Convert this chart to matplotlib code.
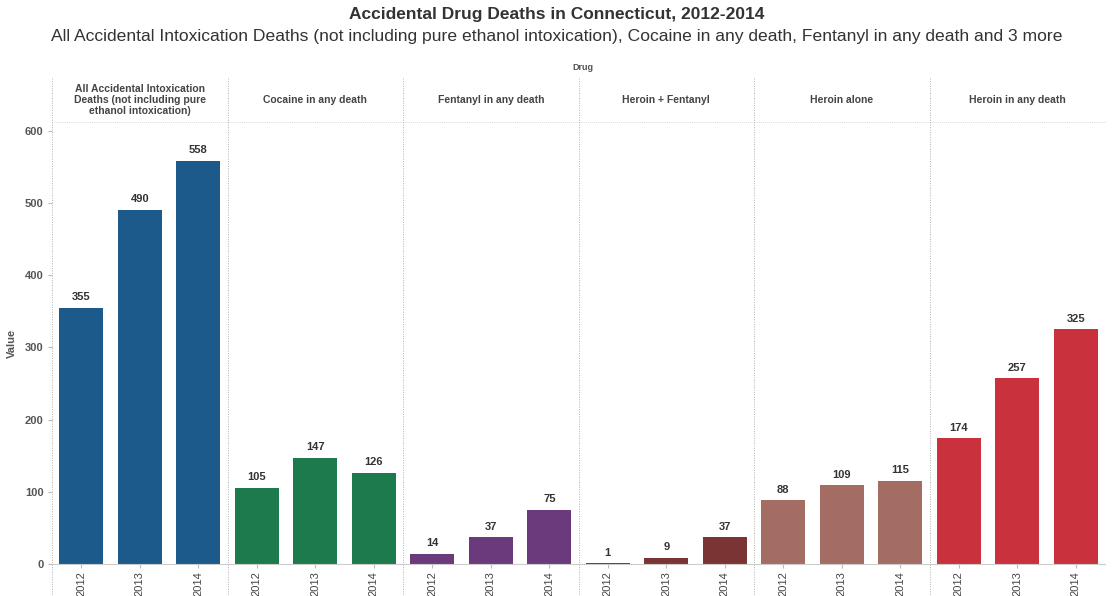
import matplotlib
matplotlib.use("Agg")
import matplotlib.pyplot as plt
from matplotlib.lines import Line2D

plt.rcParams['font.family'] = ['Liberation Sans', 'DejaVu Sans']

drugs = [
    "All Accidental Intoxication\nDeaths (not including pure\nethanol intoxication)",
    "Cocaine in any death",
    "Fentanyl in any death",
    "Heroin + Fentanyl",
    "Heroin alone",
    "Heroin in any death",
]
years = ["2012", "2013", "2014"]
values = [
    [355, 490, 558],
    [105, 147, 126],
    [14, 37, 75],
    [1, 9, 37],
    [88, 109, 115],
    [174, 257, 325],
]
colors = ["#1b5a8b", "#1c7a4c", "#6a3a7c", "#7a3434", "#a46d64", "#c9323c"]
yticks = [0, 100, 200, 300, 400, 500, 600]

W, H = 1114, 596
fig = plt.figure(figsize=(W / 100, H / 100), dpi=100)

left_px, right_px = 52, 1105
top_px, bottom_px = 122, 564
panel_w = (right_px - left_px) / len(drugs)
axes = []
for i, (name, vals, col) in enumerate(zip(drugs, values, colors)):
    x0 = (left_px + i * panel_w) / W
    ax = fig.add_axes([x0, 1 - bottom_px / H, panel_w / W, (bottom_px - top_px) / H])
    xs = range(len(years))
    ax.bar(xs, vals, width=0.75, color=col)
    for x, v in zip(xs, vals):
        ax.text(x, v + 8, str(v), ha="center", va="bottom", fontsize=8,
                fontweight="bold", color="#333333")
    ax.set_xlim(-0.5, 2.5)
    ax.set_ylim(0, 612)
    ax.set_xticks(list(xs))
    ax.set_xticklabels(years, rotation=90, fontsize=8, color="#444444")
    ax.tick_params(axis="x", length=3, color="#bbbbbb", pad=2)
    for s in ["top", "right", "left"]:
        ax.spines[s].set_visible(False)
    ax.spines["bottom"].set_color("#cccccc")
    ax.spines["bottom"].set_linewidth(0.8)
    if i == 0:
        ax.set_yticks(yticks)
        ax.set_yticklabels([str(t) for t in yticks], fontsize=8,
                           fontweight="bold", color="#555555")
        ax.tick_params(axis="y", length=3, color="#bbbbbb", pad=3)
        ax.set_ylabel("Value", fontsize=8, fontweight="bold", color="#555555", labelpad=6)
    else:
        ax.set_yticks([])
    cx = (left_px + (i + 0.5) * panel_w) / W
    fig.text(cx, 1 - 100 / H, name, ha="center", va="center", fontsize=7.5,
             fontweight="bold", color="#444444", linespacing=1.15)
    axes.append(ax)

for i in range(len(drugs)):
    xpx = left_px + i * panel_w
    fig.add_artist(Line2D([xpx / W, xpx / W], [1 - 78 / H, 0.0],
                          transform=fig.transFigure, color="#b0b0b0",
                          linewidth=0.7, linestyle=(0, (1, 1.5))))
fig.add_artist(Line2D([left_px / W, right_px / W], [1 - top_px / H, 1 - top_px / H],
                      transform=fig.transFigure, color="#cccccc", linewidth=0.6,
                      linestyle=(0, (1, 1.5))))

fig.text(0.5, 1 - 15 / H, "Accidental Drug Deaths in Connecticut, 2012-2014",
         ha="center", va="center", fontsize=12.5, fontweight="bold", color="#333333")
fig.text(0.5, 1 - 37 / H,
         "All Accidental Intoxication Deaths (not including pure ethanol intoxication), "
         "Cocaine in any death, Fentanyl in any death and 3 more",
         ha="center", va="center", fontsize=12.6, color="#333333")
fig.text(583 / W, 1 - 68 / H, "Drug", ha="center", va="center", fontsize=6.5,
         fontweight="bold", color="#555555")

fig.savefig("out.png", dpi=100)
